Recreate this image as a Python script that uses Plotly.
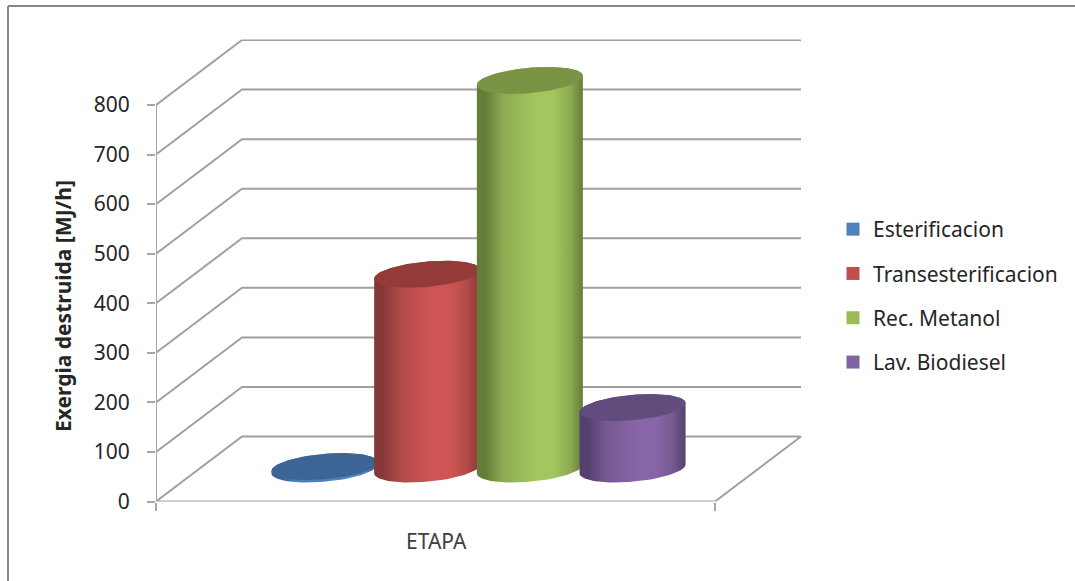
import numpy as np
import plotly.graph_objects as go

series = ["Esterificacion", "Transesterificacion", "Rec. Metanol", "Lav. Biodiesel"]
values = [5, 393, 784, 124]
y_ticks = [0, 100, 200, 300, 400, 500, 600, 700, 800]
category = "ETAPA"
y_title = "Exergia destruida [MJ/h]"

key_colors = ["#4f81bd", "#c0504d", "#9bbb59", "#8064a2"]
top_colors = ["#3c6494", "#943b39", "#7a9345", "#624c7e"]
dark_colors = ["#3c6494", "#863836", "#647d38", "#54406f"]
mid_colors = ["#4a7ebb", "#b04a48", "#8dab52", "#75598f"]
light_colors = ["#4f81bd", "#cd5654", "#a3c65e", "#8765a8"]

W, H = 1075, 581
X0, X1, XB = 156.0, 715.0, 802.5   # pixel positions of the front floor edge and of the back wall end
Y0, Y800, YTOP = 501.5, 105.0, 39.5
PX_V = (Y0 - Y800) / 800
PX_X = X1 - X0
DEPTH_X = 86 / PX_X
DEPTH_V = 65 / PX_V
X_MAX = (XB - X0) / PX_X
V_MAX = (Y0 - YTOP) / PX_V

GRID = "#a0a0a0"
FONT = "Noto Sans"

fig = go.Figure()

# walls and floor of the 3D frame
for v in y_ticks:
    xs = [0, DEPTH_X, DEPTH_X + 1]
    ys = [v, v + DEPTH_V, v + DEPTH_V]
    if v == 0:
        xs += [1, 0]
        ys += [0, 0]
    fig.add_trace(go.Scatter(x=xs, y=ys, mode="lines", showlegend=False, hoverinfo="skip",
                             cliponaxis=False, line=dict(color=GRID, width=2)))
fig.add_trace(go.Scatter(x=[0, 0], y=[0, y_ticks[-1]], mode="lines", showlegend=False, hoverinfo="skip",
                         cliponaxis=False, line=dict(color="#a6a6a6", width=2)))

# cylinders
RX = 53.0 / PX_X
RY = 12.7 / PX_V
SKEW = 4.5 / PX_V
BASE = (Y0 - 469.0) / PX_V
SPACING = 102.7 / PX_X
CENTER = 0.5 + DEPTH_X / 2


def ring(cx, cy, t):
    return cx + RX * np.cos(t), cy + SKEW * np.cos(t) + RY * np.sin(t)


for i, (name, val) in enumerate(zip(series, values)):
    cx = CENTER + (i - 1.5) * SPACING
    top = BASE + val
    t_low = np.linspace(np.pi, 2 * np.pi, 60)
    t_up = np.linspace(0, np.pi, 60)
    bx, by = ring(cx, BASE, t_low)
    tx, ty = ring(cx, top, t_up)
    fig.add_trace(go.Scatter(
        x=np.r_[bx, tx], y=np.r_[by, ty], mode="lines", fill="toself", showlegend=False,
        hoverinfo="skip", line=dict(width=0, color=dark_colors[i]), cliponaxis=False, legendgroup=name,
        fillgradient=dict(type="horizontal", colorscale=[
            [0, dark_colors[i]], [0.08, dark_colors[i]], [0.25, mid_colors[i]],
            [0.55, light_colors[i]], [0.72, light_colors[i]], [0.88, mid_colors[i]],
            [1, dark_colors[i]]])))
    ex, ey = ring(cx, top, np.linspace(0, 2 * np.pi, 120))
    fig.add_trace(go.Scatter(
        x=ex, y=ey, mode="lines", fill="toself", fillcolor=top_colors[i], showlegend=False,
        hoverinfo="skip", line=dict(width=0, color=top_colors[i]), cliponaxis=False, legendgroup=name))
    fig.add_trace(go.Scatter(
        x=[None], y=[None], mode="markers", name=name, legendgroup=name,
        marker=dict(symbol="square", size=13, color=key_colors[i])))

fig.update_layout(
    width=W, height=H, autosize=False,
    margin=dict(l=0, r=0, t=0, b=0, autoexpand=False),
    paper_bgcolor="white", plot_bgcolor="white",
    font=dict(family=FONT, size=21, color="#262626"),
    xaxis=dict(domain=[X0 / W, XB / W], range=[0, X_MAX], tickvals=[0, 1], ticktext=["", ""],
               ticks="outside", ticklen=8, tickwidth=2, tickcolor="#a6a6a6",
               showgrid=False, zeroline=False, showline=False),
    yaxis=dict(domain=[1 - Y0 / H, 1 - YTOP / H], range=[0, V_MAX], tickvals=y_ticks,
               ticks="outside", ticklen=8, tickwidth=2, tickcolor="#a6a6a6",
               ticklabelstandoff=13,
               showgrid=False, zeroline=False, showline=False,
               tickfont=dict(family=FONT, size=21, color="#262626")),
    legend=dict(x=833 / W, y=1 - 209 / H, xanchor="left", yanchor="top",
                bgcolor="rgba(0,0,0,0)", itemclick=False, itemdoubleclick=False,
                tracegroupgap=14, font=dict(family=FONT, size=21, color="#262626"),
                itemwidth=30, traceorder="grouped"),
    shapes=[
        dict(type="line", xref="paper", yref="paper", x0=8 / W, x1=1, y0=1 - 6 / H, y1=1 - 6 / H,
             line=dict(color="#868686", width=2)),
        dict(type="line", xref="paper", yref="paper", x0=8 / W, x1=8 / W, y0=0, y1=1 - 6 / H,
             line=dict(color="#868686", width=2)),
    ],
    annotations=[
        dict(text=category, xref="paper", yref="paper", x=436 / W, y=1 - 541 / H, showarrow=False,
             xanchor="center", yanchor="middle", font=dict(family=FONT, size=21, color="#404040")),
        dict(text="<b>" + y_title + "</b>", xref="paper", yref="paper", x=63 / W, y=1 - 306 / H,
             showarrow=False, textangle=-90, xanchor="center", yanchor="middle",
             font=dict(family=FONT, size=21, color="#262626")),
    ],
)

fig.write_html("out.html", config={"displayModeBar": False},
               post_script="document.body.style.margin='0';")
